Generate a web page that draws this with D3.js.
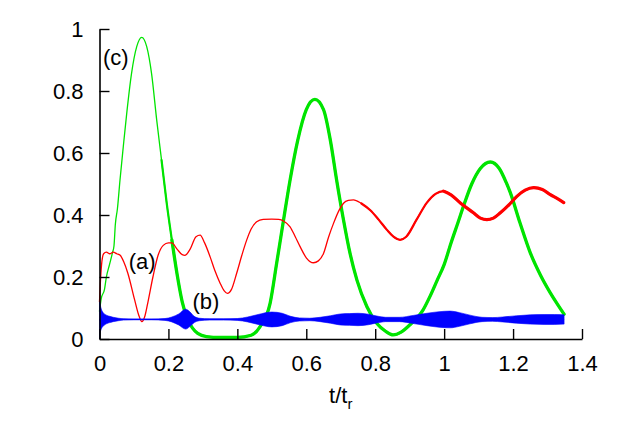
<!DOCTYPE html>
<html>
<head>
<meta charset="utf-8">
<script src="https://cdn.jsdelivr.net/npm/d3@7"></script>
<style>
  body { margin: 0; background: #fff; }
  text { font-family: "Liberation Sans", Arial, sans-serif; }
</style>
</head>
<body>
<svg id="chart" width="623" height="436"></svg>
<script>
// tick labels
const xTicks = [0, 0.2, 0.4, 0.6, 0.8, 1, 1.2, 1.4]
const yTicks = [0, 0.2, 0.4, 0.6, 0.8, 1]

// curve (c), green
const tC = [0, 0.005, 0.0145, 0.02, 0.029, 0.038, 0.042, 0.046, 0.052, 0.0595, 0.069, 0.079, 0.093, 0.108, 0.1225,
  0.137, 0.151, 0.166, 0.18, 0.195, 0.21, 0.225, 0.24, 0.255, 0.27, 0.285, 0.31, 0.35, 0.4, 0.44, 0.466, 0.495,
  0.514, 0.534, 0.553, 0.575, 0.6, 0.625, 0.65, 0.67, 0.688, 0.708, 0.727, 0.747, 0.776, 0.805, 0.83, 0.852, 0.875,
  0.9, 0.939, 0.96, 0.98, 1.0, 1.02, 1.04, 1.056, 1.08, 1.105, 1.134, 1.16, 1.18, 1.192, 1.22, 1.25, 1.28, 1.308, 1.33, 1.348]
const vC = [0.09, 0.13, 0.16, 0.2, 0.24, 0.28, 0.3, 0.37, 0.42, 0.513, 0.62, 0.728, 0.857, 0.943, 0.973,
  0.943, 0.857, 0.706, 0.577, 0.438, 0.319, 0.21, 0.12, 0.065, 0.035, 0.018, 0.008, 0.005, 0.005, 0.012, 0.04, 0.115,
  0.244, 0.384, 0.513, 0.64, 0.74, 0.773, 0.74, 0.64, 0.513, 0.384, 0.276, 0.19, 0.104, 0.05, 0.025, 0.013, 0.022,
  0.045, 0.094, 0.14, 0.19, 0.24, 0.31, 0.375, 0.428, 0.5, 0.55, 0.571, 0.55, 0.505, 0.472, 0.375, 0.278, 0.205, 0.149, 0.11, 0.08]

// curve (a), red
const tA = [0, 0.002, 0.006, 0.012, 0.02, 0.03, 0.04, 0.05, 0.06, 0.07, 0.082, 0.102, 0.113, 0.123, 0.132, 0.14,
  0.155, 0.17, 0.185, 0.2, 0.21, 0.225, 0.24, 0.248, 0.263, 0.28, 0.292, 0.305, 0.321, 0.335, 0.35, 0.362, 0.371,
  0.383, 0.398, 0.413, 0.427, 0.44, 0.456, 0.475, 0.5, 0.52, 0.535, 0.553, 0.568, 0.582, 0.6, 0.621, 0.635, 0.65,
  0.665, 0.679, 0.695, 0.708, 0.722, 0.737, 0.76, 0.785, 0.81, 0.834, 0.853, 0.872, 0.89, 0.92, 0.95, 0.975, 0.998,
  1.02, 1.047, 1.085, 1.105, 1.124, 1.143, 1.163, 1.19, 1.211, 1.235, 1.26, 1.285, 1.308, 1.33, 1.347]
const vA = [0.12, 0.17, 0.24, 0.275, 0.28, 0.275, 0.28, 0.275, 0.27, 0.25, 0.213, 0.126, 0.08, 0.056, 0.075, 0.116,
  0.2, 0.27, 0.302, 0.31, 0.31, 0.29, 0.272, 0.27, 0.29, 0.33, 0.335, 0.31, 0.265, 0.22, 0.18, 0.155, 0.147,
  0.16, 0.212, 0.27, 0.319, 0.355, 0.378, 0.386, 0.387, 0.386, 0.38, 0.362, 0.33, 0.298, 0.262, 0.246, 0.252, 0.276,
  0.33, 0.373, 0.415, 0.438, 0.447, 0.449, 0.437, 0.416, 0.385, 0.352, 0.33, 0.32, 0.33, 0.385, 0.44, 0.468, 0.477,
  0.465, 0.439, 0.407, 0.39, 0.385, 0.39, 0.407, 0.435, 0.46, 0.48, 0.488, 0.482, 0.466, 0.452, 0.44]

// curve (b), blue: mean level and half spread of the fast oscillation
const tB = [0, 0.002, 0.006, 0.012, 0.02, 0.03, 0.04, 0.055, 0.07, 0.1, 0.15, 0.19, 0.21, 0.23, 0.25, 0.262, 0.275,
  0.29, 0.32, 0.36, 0.4, 0.43, 0.46, 0.5, 0.53, 0.555, 0.58, 0.61, 0.64, 0.67, 0.7, 0.725, 0.75, 0.78, 0.805, 0.83,
  0.87, 0.91, 0.95, 0.985, 1.017, 1.045, 1.075, 1.11, 1.14, 1.17, 1.21, 1.25, 1.29, 1.32, 1.348]
const mB = [0.06, 0.065, 0.064, 0.063, 0.063, 0.063, 0.063, 0.063, 0.063, 0.063, 0.063, 0.063, 0.063, 0.063, 0.064, 0.064, 0.063,
  0.063, 0.063, 0.063, 0.063, 0.063, 0.063, 0.063, 0.063, 0.063, 0.063, 0.063, 0.063, 0.063, 0.063, 0.063, 0.063, 0.063, 0.063, 0.063,
  0.063, 0.063, 0.063, 0.063, 0.063, 0.063, 0.063, 0.063, 0.063, 0.063, 0.063, 0.063, 0.063, 0.063, 0.063]
const sB = [0.06, 0.045, 0.03, 0.02, 0.014, 0.01, 0.007, 0.004, 0.002, 0.0012, 0.0012, 0.003, 0.008, 0.018, 0.032, 0.024, 0.01,
  0.004, 0.002, 0.002, 0.003, 0.008, 0.016, 0.024, 0.02, 0.01, 0.005, 0.004, 0.007, 0.012, 0.018, 0.019, 0.02, 0.017, 0.011, 0.007,
  0.007, 0.013, 0.02, 0.025, 0.027, 0.022, 0.014, 0.007, 0.006, 0.008, 0.012, 0.015, 0.016, 0.016, 0.015]

const labels = [
  { text: "(a)", t: 0.085, v: 0.226 },
  { text: "(b)", t: 0.27, v: 0.097 },
  { text: "(c)", t: 0.01, v: 0.885 }
]

const svg = d3.select("#chart")
const x = d3.scaleLinear().domain([0, 1.4]).range([99.5, 582])
const y = d3.scaleLinear().domain([0, 1]).range([339, 29])

const pts = (ts, vs) => ts.map((t, i) => ({ t, v: vs[i] }))
const line = d3.line().x(d => x(d.t)).y(d => y(d.v)).curve(d3.curveMonotoneX)

function drawCurve(data, color, pieces) {
  pieces.forEach(p => {
    svg.append("path")
      .datum(data.filter(d => d.t >= p.from && d.t <= p.to))
      .attr("fill", "none")
      .attr("stroke", color)
      .attr("stroke-width", p.width)
      .attr("stroke-linejoin", "round")
      .attr("stroke-linecap", "round")
      .attr("d", line)
  })
}

// green (c)
drawCurve(pts(tC, vC), "#00e400", [
  { from: 0, to: 2, width: 1.3 },
  { from: 0.18, to: 2, width: 2.2 },
  { from: 0.21, to: 2, width: 3.3 }
])

// red (a)
drawCurve(pts(tA, vA), "#ff0000", [
  { from: 0, to: 2, width: 1.3 },
  { from: 0.76, to: 2, width: 2.2 },
  { from: 0.998, to: 2, width: 3.2 }
])

// blue (b)
const blue = tB.map((t, i) => ({ t, m: mB[i], s: sB[i] }))
svg.append("path")
  .datum(blue)
  .attr("fill", "#0000ff")
  .attr("stroke", "#0000ff")
  .attr("stroke-width", 0.6)
  .attr("d", d3.area().x(d => x(d.t)).y0(d => y(d.m - d.s)).y1(d => y(d.m + d.s)).curve(d3.curveMonotoneX))
svg.append("path")
  .datum(blue)
  .attr("fill", "none")
  .attr("stroke", "#0000ff")
  .attr("stroke-width", 1.2)
  .attr("d", d3.line().x(d => x(d.t)).y(d => y(d.m)).curve(d3.curveMonotoneX))

// axes
svg.append("g")
  .attr("transform", "translate(0," + y(0) + ")")
  .call(d3.axisBottom(x).tickValues(xTicks).tickFormat(d => String(d))
    .tickSize(-10).tickSizeOuter(0).tickPadding(16))
svg.append("g")
  .attr("transform", "translate(" + x(0) + ",0)")
  .call(d3.axisLeft(y).tickValues(yTicks).tickFormat(d => String(d))
    .tickSize(-10).tickSizeOuter(0).tickPadding(16))

svg.selectAll(".domain").attr("stroke", "#000").attr("stroke-width", 1.6)
svg.selectAll(".tick line").attr("stroke", "#000").attr("stroke-width", 1.4)
svg.selectAll(".tick text")
  .attr("fill", "#000")
  .style("font-size", "22px")
  .style("font-family", "'Liberation Sans', Arial, sans-serif")

// curve labels
svg.selectAll(".lab")
  .data(labels)
  .enter().append("text")
  .attr("class", "lab")
  .attr("x", d => x(d.t))
  .attr("y", d => y(d.v))
  .style("font-size", "22px")
  .attr("fill", "#000")
  .text(d => d.text)

// x axis title
const xt = svg.append("text")
  .attr("x", (x(0) + x(1.4)) / 2)
  .attr("y", 403)
  .attr("text-anchor", "middle")
  .style("font-size", "22px")
  .attr("fill", "#000")
xt.append("tspan").text("t/t")
xt.append("tspan").attr("dy", 6).style("font-size", "15px").text("r")
</script>
</body>
</html>
